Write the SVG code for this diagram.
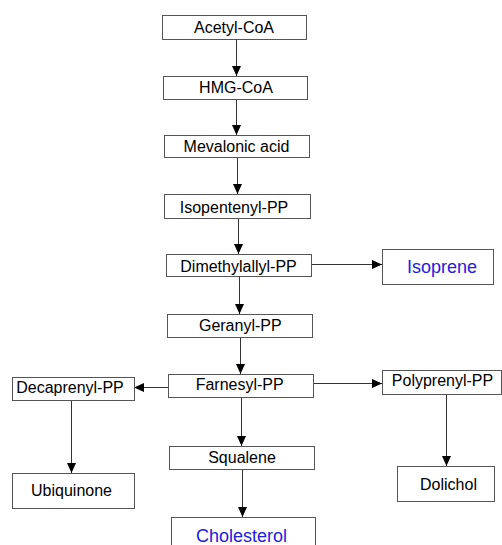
<svg xmlns="http://www.w3.org/2000/svg" width="502" height="545" viewBox="0 0 502 545">
<style>
.box{fill:#fff;stroke:#555;stroke-width:1}
.t{font-family:"Liberation Sans",Arial,sans-serif;font-size:16px;fill:#000;text-anchor:middle}
.b{font-family:"Liberation Sans",Arial,sans-serif;font-size:18px;fill:#2020e0;text-anchor:middle}
.c{fill:none;stroke:#333;stroke-width:1}
</style>
<defs>
<marker id="ah" markerUnits="userSpaceOnUse" markerWidth="10" markerHeight="10" viewBox="0 0 10 10" refX="10" refY="5" orient="auto">
<path d="M0,0.5 L10,5 L0,9.5 Z" fill="#000"/>
</marker>
</defs>
<g id="connectors">
<path class="c" d="M236.5,39 V76" marker-end="url(#ah)"/>
<path class="c" d="M236.5,99 V135" marker-end="url(#ah)"/>
<path class="c" d="M237.5,157 V194" marker-end="url(#ah)"/>
<path class="c" d="M238.5,218 V254" marker-end="url(#ah)"/>
<path class="c" d="M239.5,276 V314" marker-end="url(#ah)"/>
<path class="c" d="M240.5,337 V374" marker-end="url(#ah)"/>
<path class="c" d="M311,264.5 H382" marker-end="url(#ah)"/>
<path class="c" d="M313,383.5 H382" marker-end="url(#ah)"/>
<path class="c" d="M168,387.5 H134" marker-end="url(#ah)"/>
<path class="c" d="M241.5,397 V446" marker-end="url(#ah)"/>
<path class="c" d="M242.5,469 V517" marker-end="url(#ah)"/>
<path class="c" d="M71.5,400 V473" marker-end="url(#ah)"/>
<path class="c" d="M446.5,394 V466" marker-end="url(#ah)"/>
</g>
<g id="acetyl"><rect class="box" x="162.5" y="15.5" width="144" height="24"/><text class="t" x="234" y="33">Acetyl-CoA</text></g>
<g id="hmg"><rect class="box" x="163.5" y="76.5" width="144" height="23"/><text class="t" x="236" y="93">HMG-CoA</text></g>
<g id="mevalonic"><rect class="box" x="164.5" y="135.5" width="145" height="22"/><text class="t" x="236.5" y="152">Mevalonic acid</text></g>
<g id="isopentenyl"><rect class="box" x="164.5" y="194.5" width="146" height="24"/><text class="t" x="234" y="213">Isopentenyl-PP</text></g>
<g id="dimethylallyl"><rect class="box" x="166.5" y="254.5" width="145" height="22"/><text class="t" x="238.5" y="272">Dimethylallyl-PP</text></g>
<g id="isoprene"><rect class="box" x="382.5" y="249.5" width="111" height="35"/><text class="b" x="442" y="272.5">Isoprene</text></g>
<g id="geranyl"><rect class="box" x="167.5" y="314.5" width="145" height="23"/><text class="t" x="240.3" y="331">Geranyl-PP</text></g>
<g id="farnesyl"><rect class="box" x="168.5" y="374.5" width="145" height="23"/><text class="t" x="239.7" y="389.5">Farnesyl-PP</text></g>
<g id="polyprenyl"><rect class="box" x="382.5" y="370.5" width="119" height="24"/><text class="t" x="442.5" y="386">Polyprenyl-PP</text></g>
<g id="decaprenyl"><rect class="box" x="12.5" y="377.5" width="122" height="23"/><text class="t" x="70" y="393">Decaprenyl-PP</text></g>
<g id="squalene"><rect class="box" x="169.5" y="446.5" width="145" height="23"/><text class="t" x="242" y="463">Squalene</text></g>
<g id="ubiquinone"><rect class="box" x="12.5" y="473.5" width="122" height="35"/><text class="t" x="71.5" y="496">Ubiquinone</text></g>
<g id="dolichol"><rect class="box" x="397.5" y="466.5" width="97" height="35"/><text class="t" x="448.5" y="490">Dolichol</text></g>
<g id="cholesterol"><rect class="box" x="171.5" y="517.5" width="144" height="40"/><text class="b" x="241.5" y="541.5">Cholesterol</text></g>
</svg>
